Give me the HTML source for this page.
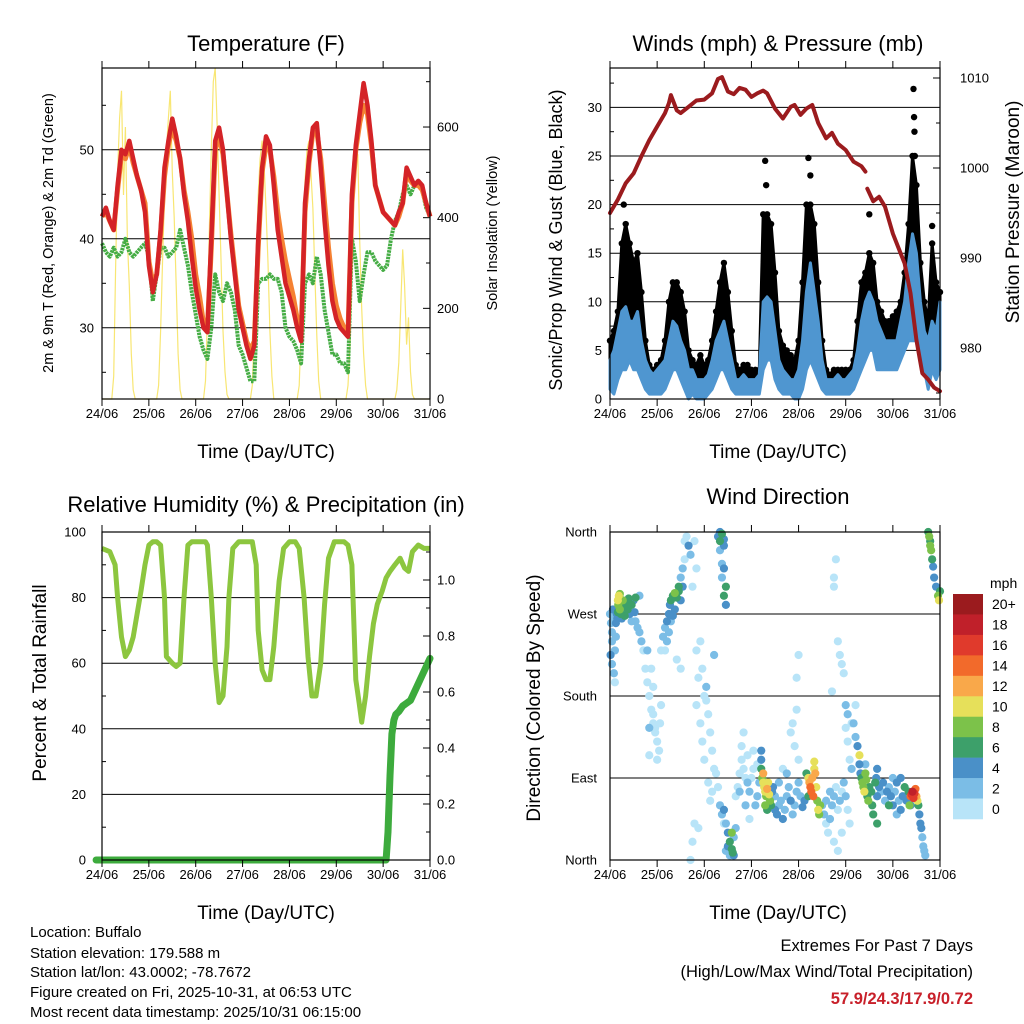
<!DOCTYPE html>
<html><head><meta charset="utf-8"><title>Station Meteogram</title>
<style>
html,body{margin:0;padding:0;background:#fff;}
svg{display:block;font-family:"Liberation Sans",sans-serif;}
</style></head>
<body>
<svg id="chart" width="1024" height="1024" viewBox="0 0 1024 1024" xmlns="http://www.w3.org/2000/svg">
<rect x="0" y="0" width="1024" height="1024" fill="#fff"/>
<g id="layer"></g>
<text x="266" y="51" font-size="22" text-anchor="middle">Temperature (F)</text>
<text x="778" y="51" font-size="22" text-anchor="middle">Winds (mph) &amp; Pressure (mb)</text>
<text x="266" y="512" font-size="22" text-anchor="middle">Relative Humidity (%) &amp; Precipitation (in)</text>
<text x="778" y="504" font-size="22" text-anchor="middle">Wind Direction</text>
<text x="266" y="458" font-size="19" text-anchor="middle">Time (Day/UTC)</text>
<text x="778" y="458" font-size="19" text-anchor="middle">Time (Day/UTC)</text>
<text x="266" y="919" font-size="19" text-anchor="middle">Time (Day/UTC)</text>
<text x="778" y="919" font-size="19" text-anchor="middle">Time (Day/UTC)</text>
<text transform="translate(53,233) rotate(-90)" font-size="14.5" text-anchor="middle">2m &amp; 9m T (Red, Orange) &amp; 2m Td (Green)</text>
<text transform="translate(497,233) rotate(-90)" font-size="14.5" text-anchor="middle">Solar Insolation (Yellow)</text>
<text transform="translate(562,240) rotate(-90)" font-size="18" text-anchor="middle">Sonic/Prop Wind &amp; Gust (Blue, Black)</text>
<text transform="translate(1019,212) rotate(-90)" font-size="19" text-anchor="middle">Station Pressure (Maroon)</text>
<text transform="translate(46,683) rotate(-90)" font-size="19" text-anchor="middle">Percent &amp; Total Rainfall</text>
<text transform="translate(540,698) rotate(-90)" font-size="19" text-anchor="middle">Direction (Colored By Speed)</text>
<g font-size="15">
<text x="30" y="937">Location: Buffalo</text>
<text x="30" y="958">Station elevation: 179.588 m</text>
<text x="30" y="977">Station lat/lon: 43.0002; -78.7672</text>
<text x="30" y="997">Figure created on Fri, 2025-10-31, at 06:53 UTC</text>
<text x="30" y="1017">Most recent data timestamp: 2025/10/31 06:15:00</text>
</g>
<text x="973" y="951" font-size="16.5" text-anchor="end">Extremes For Past 7 Days</text>
<text x="973" y="977" font-size="16.5" text-anchor="end">(High/Low/Max Wind/Total Precipitation)</text>
<text x="973" y="1004" font-size="16.5" font-weight="bold" fill="#c8202a" text-anchor="end">57.9/24.3/17.9/0.72</text>
<text x="990" y="588" font-size="14">mph</text>
</svg>
<script>
const dayLabels = ["24/06","25/06","26/06","27/06","28/06","29/06","30/06","31/06"];
const tempRed = [42.5,43.5,42,41,46,50,49.5,51,49,47,45.5,43,
 37,34,36,41,48,51,53.5,51.5,49,45,42,38,
 34.5,32,30,29.5,40,51,52.5,50,45,40,36,32,
 30,28,26.5,28,40,48,51.5,50.5,46,41,38,35,
 33.5,32,30,28.5,44,49,52.5,53,48,42,37,33,
 31,30,29.5,29,45,50.5,54,57.5,55,51,46,44.5,
 43,42.5,42,41.5,43,44,48,47,46,46.5,46,44,42.5];
const tempOrange = [42.5,43,42,41,45.5,49.5,49,50.5,48.5,47,45.5,44,
 37.5,35,36,40.5,47,50.5,52.5,51,49,45.5,43,40,
 36,33.5,30.5,30,39,50,51.5,49.5,45,40.5,36.5,32.5,
 30.5,28.5,27.5,28.5,39,47.5,50.5,50,47,43,40,37.5,
 35.5,33.5,31,29.5,43,48.5,52,52,49,44,39,35,
 32.5,31,30,29.5,44,50,53,55,54,50.5,46,44.5,
 43,42.5,42,41.5,42.5,44,47.5,46.5,46,46,45.5,44,42.5];
const dewGreen = [39.5,38.5,38,39,38,38.5,40,38.5,38,38.5,39,39.5,
 38,33,36,39,39,38,38.5,39,41,39,37,34,
 31.5,29,27.5,26.5,30,36,34,33,35,34,32,28,
 27,25.5,24,24,35,35.5,35.5,36,35.5,35.5,34,30,
 29,28.5,27.5,26,35,36,35,38,36,32,29.5,27,
 27,26,26,25,40,37.5,33,36,38.5,38.5,37.5,37,
 36.5,37,40,42,43,45,46,45,46,46.5,45.5,43.5,42.5];
const solar = [0,0,0,0,0,0,
 50,300,500,620,680,450,600,350,250,100,20,
 0,0,0,0,0,0,0,0,0,0,0,0,
 30,150,300,450,550,620,680,500,400,250,100,20,
 0,0,0,0,0,0,0,0,0,0,0,0,
 40,180,380,550,700,730,600,450,300,150,60,10,
 0,0,0,0,0,0,0,0,0,0,0,0,
 30,150,300,450,530,570,520,420,300,150,50,
 0,0,0,0,0,0,0,0,0,0,0,0,0,
 30,150,330,480,550,570,500,420,280,140,40,
 0,0,0,0,0,0,0,0,0,0,0,0,0,0,
 30,120,300,450,520,540,350,200,100,30,
 0,0,0,0,0,0,0,0,0,0,0,0,0,0,0,
 20,80,200,330,250,120,180,60,10,
 0,0,0,0,0,0,0,0,0];
const windLo = [1,0.5,2,3,3,4,3,3,2,1,0.5,0.5,
 0.5,0.5,1,2,3,3,2,1,0,0.5,0,0,
 0,0.5,1,2,3,3,2,1,0.5,0.5,0.5,0.5,
 0.5,0.5,0.5,3,4,4,2,1,0.5,0.5,0.5,0,
 0,1,3,4,3,2,1,0.5,0.5,0.5,0.5,0.5,
 0.5,0.5,1,2,3,4,5,5,3,3,3,3,
 3,3,4,5,6,6,6,4,3,1,3,2,3];
const windHi = [4,5,7,9,9.5,8,8,9,6,4,3,2.5,
 3,3.5,4,6,8,7.5,6,5,3,3,2,2,
 2,2.5,4,6,7,8,6,4,2,2,2.5,2,
 2,2,2.5,10,10.5,10,7,4,3,2.5,2,2,
 3,6,11,14,11,8,4,2,2,2,2.5,2,
 2,2.5,3,5,8,10,11,10,8,7,6,6,
 6,6,8,10,14,17,15,10,7,6,8,7,10];
const gust = [6,7,9,16,18,16,14,15,11,6,3.5,3,
 3.5,4,6,10,12,12,11,9,5,4,3.5,4.5,
 3.5,4,6,9,12,14,11,7,3.5,3,3.5,3.5,
 3,3,3,19,19,18,13,7,5.5,5,4.5,4,
 6,12,20,20,18,12,6,3,2.5,3,3,3,
 3,3,4,8,12,13,15,14,10,9,8,8,
 8.5,9,10,13,18,25,22,14,10,8,16,12,11];
const gustPeakT = [7,79,79.5,101,102,132,154.5,154.8,155,155.2,164];
const gustPeakV = [20,24.5,22,24.8,23,19,31.9,29,27.5,25,17.8];
const presT = [0,4,8,12,16,20,24,28,30,31,34,36,40,44,48,52,55,57,60,63,66,69,72,75,78,80,84,88,92,94,97,100,103,106,110,113,116,120,124,128,130,130.5,131,134,137,140,144,148,150,153,156,159,162,165,168];
const presV = [995.0,996.5,998.3,999.4,1001.3,1003.1,1004.6,1006.1,1007.2,1008.1,1006.4,1006.1,1006.8,1007.5,1007.6,1008.3,1009.9,1010.1,1008.5,1008.2,1008.9,1008.7,1007.9,1008.3,1008.6,1008.3,1006.6,1005.5,1006.8,1007.0,1005.9,1006.6,1007.0,1005.0,1003.3,1003.9,1002.7,1002.0,1000.7,1000.2,999.6,null,997.7,996.3,996.8,995.7,992.7,990.5,989.4,986.1,980.9,977.2,976.5,975.6,975.2];
const rhT = [0,4,6.7,8,10,12,14,16,18,20,22,24,26,28,30,32,33,36,38,40,42,44,46,48,50,53,54,56,58,60,62,64,65,67,70,73,77,79,80,82,84,86,88,90.7,93,96,99,101,103.5,105.5,107.5,109.6,112,114,116,119,124,126,128,130,131.7,133,135,137,139,141,143.5,145.5,147.5,150,152.7,155,157,159,162,165,168];
const rhV = [95,94,90,80,68,62,64,68,75,82,90,96,97,97,96,80,62,60,59,60,80,96,97,97,97,97,96,80,60,48,50,65,80,95,97,97,97,90,70,58,55,55,65,85,95,97,97,95,80,62,50,50,60,78,92,97,97,96,90,55,48,42,50,62,72,78,82,86,88,90,92,89,88,94,96,95,95];
const precipT = [-3,145.5,146.5,147.5,148.5,149.5,150.5,152,154,156,158,160,162,164,166,168];
const precipV = [0,0,0.1,0.3,0.45,0.5,0.52,0.53,0.55,0.56,0.57,0.6,0.63,0.66,0.69,0.72];
const speedLabels = ["0","2","4","6","8","10","12","14","16","18","20+"];
const speedColors = ["#b8e4f8","#7bbde6","#4a90c8","#3da06a","#7cc24a","#e6e05a","#f9a84a","#f26a2b","#e03a2c","#c0202a","#9b1b1e"];
const dirLabels = ["North","East","South","West","North"];
const windDirObs = [
[0,270,3],[0.5,260,2],[1,250,3],[1,240,2],[1.5,275,4],[2,265,3],[2.5,230,2],[0.3,225,4],[2,205,2],[2.5,195,1],[1,215,3],[3,260,4],[3.5,270,5],[3,245,3],
[4,285,10],[4.5,290,10],[4.2,280,9],[5,275,8],[5.5,270,7],[6,280,6],[6.5,285,8],[7,275,5],[7.5,268,6],[8,280,7],[5,292,9],[6,265,4],[4,272,7],[3.7,265,5],
[9,275,6],[10,270,5],[11,280,7],[12,285,5],[12.5,272,4],[13,262,3],[14,255,3],[15,250,2],[16,240,2],[17,230,1],[18,210,1],[19,195,1],[20,180,1],[21,165,1],[22,150,1],[23,140,0],[24,130,0],[19,230,2],[21,210,1],[22,190,1],[25,120,1],[20,115,1],[15,290,3],[11,262,3],[9.5,287,7],[13,288,6],
[22,160,0],[23,145,1],[24,110,0],[25.5,150,1],[26,170,1],[20,145,3],
[26,230,1],[27,245,2],[28,255,3],[29,262,4],[30,270,4],[30.5,280,5],[31,285,6],[32,290,7],[33,293,8],[34,288,6],[35,295,7],[36,285,5],[33,275,4],[31,262,3],[29,240,2],[28,230,1],[30,250,3],[32,268,4],[35,300,6],[36,310,2],[37,320,2],[38,330,1],[38,350,1],[39,355,0],[40,345,4],[41,335,2],[37,300,4],[36,210,1],[34,220,0],
[41,0,0],[42,20,1],[43,40,1],[44,170,1],[45,200,1],[46,150,0],[47,130,0],[48,180,0],[49,175,1],[50,160,0],[51,140,1],[52,120,1],[53,100,0],[54,95,1],[55,80,1],[56,60,2],[57,50,2],[58,40,1],[48,110,0],[50,85,1],[52,75,1],[44,230,1],[46,240,1],[43,350,0],[44,320,1],[42,300,0],[47,210,0],[49,190,2],[53,225,2],[51,65,0],[45,35,1],
[55,355,5],[56,350,6],[57,358,6],[58,352,4],[56,340,3],[57,325,3],[58,320,4],[59,300,6],[58,290,7],[57,310,3],[59,280,5],[56,360,4],[58,345,5],
[58,55,4],[59,40,3],[60,30,4],[61,20,6],[62,12,7],[62.5,8,6],[61,5,3],[60,15,4],[63,25,3],[64,35,3],[59,10,2],[62,30,8],[63,5,4],
[64,70,1],[65,80,1],[66,95,1],[67,110,1],[68,100,1],[69,90,1],[70,85,2],[71,75,2],[72,90,1],[73,100,1],[74,60,2],[75,70,3],[76,85,2],[67,125,0],[70,115,1],[73,120,0],[75,105,1],[69,60,2],[66,75,2],[71,45,0],[68,140,1],
[77,100,6],[77.5,90,9],[78,85,10],[78.5,80,11],[79,75,10],[79.5,70,9],[80,78,12],[80.5,85,11],[81,72,10],[81.5,65,8],[82,60,6],[82.5,75,5],[83,80,4],[84,70,3],[78,95,12],[79,60,8],[80,55,7],[77,110,4],[77,120,5],
[84,55,4],[85,50,4],[86,60,3],[87,65,3],[88,45,4],[89,55,2],[90,70,2],[91,80,3],[92,65,4],[93,50,3],[94,60,2],[95,75,2],[96,85,2],[97,70,3],[98,58,4],[99,65,5],[86,85,2],[90,95,2],[88,100,1],[92,140,1],[93,150,1],[94,125,1],[95,165,1],[96,110,1],[95,200,0],[96,225,1],
[101,90,10],[101.5,85,12],[102,80,14],[102.5,75,15],[103,90,13],[103.5,70,14],[104,100,11],[104.5,95,12],[105,80,10],[105.5,65,9],[106,55,10],[106.5,50,9],[107,60,8],[101,70,6],[100,95,7],[104,108,10],
[108,60,3],[109,50,2],[110,40,1],[111,30,1],[112,45,2],[113,60,2],[114,70,2],[115,80,1],[116,55,1],[117,65,2],[118,75,1],[119,85,2],[120,70,2],[121,55,1],[122,40,1],[110,65,3],[112,75,3],[114,20,1],[116,10,1],[118,30,1],[120,145,1],[121,130,1],[122,110,1],[123,100,2],[123,150,0],[113,185,0],[114,310,0],[114,300,0],[115,330,0],[116,240,0],[117,225,0],[118,215,1],[119,205,1],[120,170,3],[121,160,3],
[127,105,4],[127.5,95,5],[128,90,7],[128.5,85,8],[129,80,9],[129.5,75,10],[130,95,9],[130.5,88,8],[131,70,7],[131.5,65,8],[132,80,6],[133,75,7],[133.5,60,6],[134,50,7],[135,85,6],[135.5,90,5],[136,70,5],[137,80,4],[138,75,3],[139,85,4],[140,65,3],[141,75,4],[142,60,6],[127,115,10],[126,125,4],[125,135,2],[124,150,2],[125,170,1],[130,105,3],[136,100,4],[136,40,6],
[142,80,3],[143,70,4],[144,60,4],[145,75,3],[146,85,4],[147,65,3],[148,55,5],[149,70,4],[150,80,6],[151,65,5],[152,75,7],[153,60,4],[144,90,3],[146,50,3],[148,90,5],
[153,70,14],[153.5,72,16],[154,75,18],[154.5,68,17],[155,73,16],[155.5,78,14],[156,70,12],[156.5,65,10],[152.5,60,8],
[157,60,6],[157.5,50,5],[158,40,4],[158.5,35,4],[159,25,3],[159.5,15,3],[160,10,3],[160.5,5,2],
[162,360,6],[162.5,355,8],[163,350,7],[163.5,340,8],[164,330,6],[164.5,322,5],[165,310,4],[166,300,4],[167,290,8],[167.5,285,10],[168,295,6],[163,345,9]
];

const NS = "http://www.w3.org/2000/svg";
const root = document.getElementById("layer");
function mk(tag, attrs, parent) {
  const e = document.createElementNS(NS, tag);
  for (const k in attrs) e.setAttribute(k, attrs[k]);
  (parent || root).appendChild(e);
  return e;
}
function txt(x, y, s, size, anchor, parent) {
  const e = mk("text", {x: x, y: y, "font-size": size, "text-anchor": anchor}, parent);
  e.textContent = s;
  return e;
}
function pathFrom(xs, ys) {
  let d = "", pen = false;
  for (let i = 0; i < xs.length; i++) {
    if (ys[i] === null || ys[i] === undefined) { pen = false; continue; }
    d += (pen ? "L" : "M") + xs[i].toFixed(1) + "," + ys[i].toFixed(1);
    pen = true;
  }
  return d;
}
const TMAX = 168;
function makeX(x0, x1) { return t => x0 + t * (x1 - x0) / TMAX; }
function timeAxis(g, x0, x1, y0, y1, lblY) {
  const xf = makeX(x0, x1);
  for (let i = 0; i < dayLabels.length; i++) {
    const x = xf(i * 24);
    const tb = mk("line", {x1: x, y1: y1, x2: x, y2: y1 + 7, stroke: "#000", "stroke-width": 1}, g);
    
    
    const tt = mk("line", {x1: x, y1: y0, x2: x, y2: y0 - 7, stroke: "#000", "stroke-width": 1}, g);
    
    
    const l = txt(x, lblY, dayLabels[i], 13, "middle", g);
    
    
  }
}
function frame(g, x0, x1, y0, y1) {
  const r = mk("rect", {x: x0, y: y0, width: x1 - x0, height: y1 - y0, fill: "none", stroke: "#000", "stroke-width": 1.2}, g);
  
  
}
function grid(g, x0, x1, y) {
  const l = mk("line", {x1: x0, y1: y, x2: x1, y2: y, stroke: "#000", "stroke-width": 1}, g);
  
  
}
function ytick(g, x, y, len) {
  const l = mk("line", {x1: x, y1: y, x2: x + len, y2: y, stroke: "#000", "stroke-width": 1}, g);
  
  
}
function ylabel(g, x, y, s, anchor) {
  const l = txt(x, y + 4.5, s, 13, anchor, g);
  
  
}
const hours2 = tempRed.map((v, i) => i * 2);

(function () {
  const X0 = 102, X1 = 430, Y0 = 68, Y1 = 399;
  const g = mk("g", {});
  
  
  const xf = makeX(X0, X1);
  const yT = v => Y1 - (v - 22) * 8.9;
  const yS = v => Y1 - v * 0.4533;
  const sol = mk("path", {d: pathFrom(solar.map((v, i) => xf(i)), solar.map(yS)), fill: "none", stroke: "#f7e25a", "stroke-width": 1.2, "stroke-opacity": 0.85}, g);
  
  
  [30, 40, 50].forEach(v => { grid(g, X0, X1, yT(v)); ylabel(g, 94, yT(v), String(v), "end"); });
  [25, 35, 45, 55].forEach(v => ytick(g, X0, yT(v), 4));
  [0, 200, 400, 600].forEach(v => { ytick(g, X1, yS(v), -7); ylabel(g, 437, yS(v), String(v), "start"); });
  [100, 300, 500, 700].forEach(v => ytick(g, X1, yS(v), -4));
  const xs = hours2.map(xf);
  const dew = mk("path", {d: pathFrom(xs, dewGreen.map(yT)), fill: "none", stroke: "#46ad45", "stroke-width": 4, "stroke-dasharray": "2.5 0.8", "stroke-linejoin": "round"}, g);
  
  
  const or = mk("path", {d: pathFrom(xs, tempOrange.map(yT)), fill: "none", stroke: "#f58233", "stroke-width": 5, "stroke-linejoin": "round"}, g);
  
  
  const rd = mk("path", {d: pathFrom(xs, tempRed.map(yT)), fill: "none", stroke: "#d42327", "stroke-width": 4.5, "stroke-linejoin": "round"}, g);
  
  
  frame(g, X0, X1, Y0, Y1);
  timeAxis(g, X0, X1, Y0, Y1, 418);
})();

(function () {
  const X0 = 610, X1 = 940, Y0 = 68, Y1 = 399;
  const g = mk("g", {});
  
  
  const xf = makeX(X0, X1);
  const yW = v => Y1 - v * 9.72;
  const yP = p => 348 - (p - 980) * 9;
  [5, 10, 15, 20, 25, 30].forEach(v => grid(g, X0, X1, yW(v)));
  [0, 5, 10, 15, 20, 25, 30].forEach(v => ylabel(g, 602, yW(v), String(v), "end"));
  [2.5, 7.5, 12.5, 17.5, 22.5, 27.5, 32.5].forEach(v => ytick(g, X0, yW(v), 4));
  [980, 990, 1000, 1010].forEach(v => { ytick(g, X1, yP(v), -7); ylabel(g, 960, yP(v), String(v), "start"); });
  [975, 985, 995, 1005].forEach(v => ytick(g, X1, yP(v), -4));
  const xs = hours2.map(xf);
  let d = "M" + xs.map((x, i) => x.toFixed(1) + "," + yW(gust[i]).toFixed(1)).join("L");
  for (let i = xs.length - 1; i >= 0; i--) d += "L" + xs[i].toFixed(1) + "," + yW(windHi[i]).toFixed(1);
  const gb = mk("path", {d: d + "Z", fill: "#000", stroke: "#000", "stroke-width": 3, "stroke-linejoin": "round"}, g);
  
  
  for (let i = 0; i < gust.length; i++) {
    const c = mk("circle", {cx: xs[i], cy: yW(gust[i]), r: 3.2, fill: "#000"}, g);
    
    
  }
  for (let i = 0; i < gustPeakT.length; i++) {
    const c = mk("circle", {cx: xf(gustPeakT[i]), cy: yW(gustPeakV[i]), r: 3.2, fill: "#000"}, g);
    
    
  }
  let d2 = "M" + xs.map((x, i) => x.toFixed(1) + "," + yW(windHi[i]).toFixed(1)).join("L");
  for (let i = xs.length - 1; i >= 0; i--) d2 += "L" + xs[i].toFixed(1) + "," + yW(windLo[i]).toFixed(1);
  const wb = mk("path", {d: d2 + "Z", fill: "#4f96d0", stroke: "#4f96d0", "stroke-width": 3, "stroke-linejoin": "round"}, g);
  
  
  const pr = mk("path", {d: pathFrom(presT.map(xf), presV.map(v => v === null ? null : yP(v))), fill: "none", stroke: "#9b1b1e", "stroke-width": 4, "stroke-linejoin": "round", "stroke-linecap": "round"}, g);
  
  
  frame(g, X0, X1, Y0, Y1);
  timeAxis(g, X0, X1, Y0, Y1, 418);
})();

(function () {
  const X0 = 102, X1 = 430, Y0 = 532, Y1 = 860;
  const g = mk("g", {});
  
  
  const xf = makeX(X0, X1);
  const yR = v => Y1 - v * 3.28;
  const yPr = p => Y1 - p * 280;
  [20, 40, 60, 80].forEach(v => grid(g, X0, X1, yR(v)));
  [0, 20, 40, 60, 80, 100].forEach(v => ylabel(g, 86, yR(v), String(v), "end"));
  [10, 30, 50, 70, 90].forEach(v => ytick(g, X0, yR(v), 4));
  [0, 0.2, 0.4, 0.6, 0.8, 1.0].forEach(v => { ytick(g, X1, yPr(v), -7); ylabel(g, 437, yPr(v), v.toFixed(1), "start"); });
  [0.1, 0.3, 0.5, 0.7, 0.9, 1.1].forEach(v => ytick(g, X1, yPr(v), -4));
  const rh = mk("path", {d: pathFrom(rhT.map(xf), rhV.map(yR)), fill: "none", stroke: "#8cc63f", "stroke-width": 5, "stroke-linejoin": "round"}, g);
  
  
  const pc = mk("path", {d: pathFrom(precipT.map(xf), precipV.map(yPr)), fill: "none", stroke: "#3dab3d", "stroke-width": 7, "stroke-linejoin": "round", "stroke-linecap": "round"}, g);
  
  
  frame(g, X0, X1, Y0, Y1);
  timeAxis(g, X0, X1, Y0, Y1, 879);
})();

(function () {
  const X0 = 610, X1 = 940, Y0 = 532, Y1 = 860;
  const g = mk("g", {});
  
  
  const xf = makeX(X0, X1);
  const yD = d => Y1 - d * (Y1 - Y0) / 360;
  [90, 180, 270].forEach(v => grid(g, X0, X1, yD(v)));
  dirLabels.forEach((s, i) => ylabel(g, 597, yD(i * 90), s, "end"));
  const order = windDirObs.map((o, i) => i).sort((a, b) => windDirObs[a][2] - windDirObs[b][2]);
  order.forEach(i => {
    const o = windDirObs[i];
    const ci = Math.min(10, Math.floor(o[2] / 2));
    const c = mk("circle", {cx: xf(o[0]), cy: yD(o[1]), r: 4.1, fill: speedColors[ci]}, g);
    
    
  });
  frame(g, X0, X1, Y0, Y1);
  timeAxis(g, X0, X1, Y0, Y1, 879);
  const lg = mk("g", {});
  
  
  const cellH = (819 - 594) / speedColors.length;
  for (let i = 0; i < speedColors.length; i++) {
    const k = speedColors.length - 1 - i;
    const r = mk("rect", {x: 953, y: 594 + i * cellH, width: 30, height: cellH + 0.3, fill: speedColors[k]}, lg);
    
    
    const t = txt(992, 594 + i * cellH + cellH / 2 + 5, speedLabels[k], 14, "start", lg);
    
    
  }
})();
</script>
</body></html>
